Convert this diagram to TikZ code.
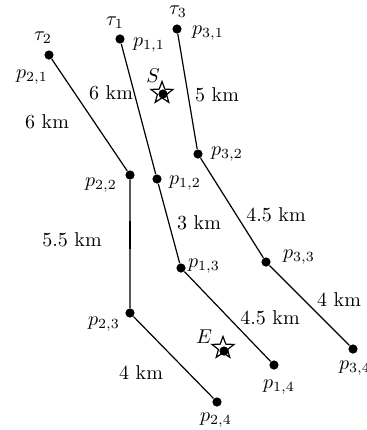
\documentclass[tikz,border=0pt]{standalone}
\usetikzlibrary{shapes.geometric}
\tikzset{
  stop/.style={circle, fill=black, inner sep=0pt, minimum size=4.6pt},
  site/.style={star, star points=5, star point ratio=2.4, draw=black, line width=0.6pt,
               minimum size=11.5pt, inner sep=0pt},
  lbl/.style={inner sep=0pt, font=\normalsize},
  route/.style={draw=black, line width=0.6pt},
}
\begin{document}
\begin{tikzpicture}[x=0.5pt, y=-0.5pt]
\useasboundingbox (0,0) rectangle (367,430);
% route of tau_2
\node[stop] (p21) at (49,55) {};
\node[stop] (p22) at (130,175) {};
\node[stop] (p23) at (130,313) {};
\node[stop] (p24) at (217,402) {};
% route of tau_1
\node[stop] (p11) at (120,39) {};
\node[stop] (p12) at (157,179) {};
\node[stop] (p13) at (181,268) {};
\node[stop] (p14) at (274,365) {};
% route of tau_3
\node[stop] (p31) at (177,29) {};
\node[stop] (p32) at (198,154) {};
\node[stop] (p33) at (266,262) {};
\node[stop] (p34) at (353,349) {};
\draw[route] (p21) -- (p22) -- (p23) -- (p24);
\draw[route] (p11) -- (p12) -- (p13) -- (p14);
\draw[route] (p31) -- (p32) -- (p33) -- (p34);
\coordinate (m1) at (130,221);
\coordinate (m2) at (130,249);
\draw[line width=1.1pt] (m1) -- (m2);
% start and end
\node[site] (S) at (162,93) {};
\node[stop] (s) at (163,94) {};
\node[site] (E) at (223,348) {};
\node[stop] (e) at (224,351) {};
\node[lbl] (lS) at (153,76) {$S$};
\node[lbl] (lE) at (204,337) {$E$};
% point labels
\node[lbl] (t2) at (43,38) {$\tau_2$};
\node[lbl] (t1) at (115,23) {$\tau_1$};
\node[lbl] (t3) at (178,12) {$\tau_3$};
\node[lbl] (l21) at (32,77) {$p_{2,1}$};
\node[lbl] (l22) at (101,185) {$p_{2,2}$};
\node[lbl] (l23) at (104,324) {$p_{2,3}$};
\node[lbl] (l24) at (216,420) {$p_{2,4}$};
\node[lbl] (l11) at (149,45) {$p_{1,1}$};
\node[lbl] (l12) at (185,183) {$p_{1,2}$};
\node[lbl] (l13) at (204,266) {$p_{1,3}$};
\node[lbl] (l14) at (279,387) {$p_{1,4}$};
\node[lbl] (l31) at (208,33) {$p_{3,1}$};
\node[lbl] (l32) at (227,154) {$p_{3,2}$};
\node[lbl] (l33) at (299,257) {$p_{3,3}$};
\node[lbl] (l34) at (355,368) {$p_{3,4}$};
% distances
\node[lbl] (d1) at (111,93) {6 km};
\node[lbl] (d2) at (47,122) {6 km};
\node[lbl] (d3) at (217,95) {5 km};
\node[lbl] (d4) at (199,223) {3 km};
\node[lbl] (d5) at (276,215) {4.5 km};
\node[lbl] (d6) at (72,240) {5.5 km};
\node[lbl] (d7) at (339,300) {4 km};
\node[lbl] (d8) at (270,318) {4.5 km};
\node[lbl] (d9) at (141,373) {4 km};
\end{tikzpicture}
\end{document}
